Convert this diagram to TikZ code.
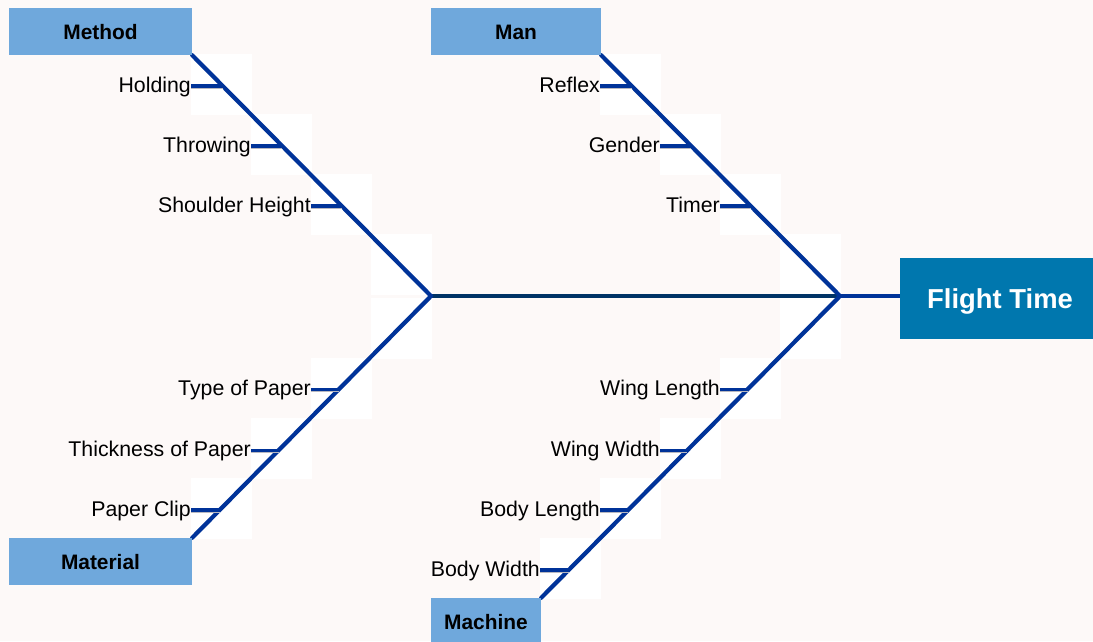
\documentclass[tikz,border=0pt]{standalone}
\usepackage{fontspec}
\setmainfont{Liberation Sans}
\definecolor{bgc}{HTML}{FDF9F8}
\definecolor{catc}{HTML}{6FA8DC}
\definecolor{effc}{HTML}{0077AE}
\definecolor{bonec}{HTML}{003399}
\definecolor{spinec}{HTML}{003366}
\definecolor{shadc}{HTML}{B8B8C0}
\pgfdeclarelayer{back}
\pgfdeclarelayer{bones}
\pgfsetlayers{back,bones,main}
\tikzset{
  catbox/.style={fill=catc, inner sep=0pt, minimum height=47pt,
    font=\fontsize{20.9}{24}\bfseries\selectfont, text=black,
    text height=15pt, text depth=0pt},
  effbox/.style={fill=effc, inner sep=0pt, minimum width=200pt, minimum height=81pt,
    font=\fontsize{27.4}{32}\bfseries\selectfont, text=white,
    text height=19.6pt, text depth=0pt},
  lbl/.style={inner sep=0pt, anchor=base east, font=\fontsize{21.3}{24}\selectfont, text=black},
  sq/.style={fill=white, draw=none},
  bone/.style={draw=bonec, line width=4.2pt},
  spineline/.style={draw=spinec, line width=3.6pt},
  headline/.style={draw=bonec, line width=3.6pt},
  rib/.style={draw=bonec, line width=3.4pt},
  ribshadow/.style={draw=shadc, line width=2pt},
}
\begin{document}
\begin{tikzpicture}[x=1pt,y=-1pt]
\useasboundingbox (0,0) rectangle (1093,641);
\clip (0,0) rectangle (1093,641);
\begin{pgfonlayer}{back}
\fill[bgc] (0,0) rectangle (1093,641);
% white squares behind the bones
\foreach \x/\y in {191/54,251/114,311/174,371/234,
                   371/298,311/358,251/418,191/478,
                   600/54,660/114,720/174,780/234,
                   780/298,720/358,660/418,600/478,540/538}
  \path[sq] (\x,\y) rectangle ++(60.5,60.5);
\end{pgfonlayer}
% junctions
\coordinate (jl) at (431,296);
\coordinate (jr) at (840,296);
% category and effect boxes
\node[catbox, minimum width=183pt] (method) at (100.5,31.5) {Method};
\node[catbox, minimum width=170pt] (man) at (516,31.5) {Man};
\node[catbox, minimum width=183pt] (material) at (100.5,561.5) {Material};
\node[catbox, minimum width=110pt] (machine) at (486,621.5) {Machine};
\node[effbox] (effect) at (1000,298.5) {Flight Time};
% spine and bones
\begin{pgfonlayer}{bones}
\draw[spineline] (jl) -- (jr);
\draw[headline] (jr) -- (jr -| effect.west);
\draw[bone, line cap=round] (method.south east) -- (jl);
\draw[bone, line cap=round] (man.south east) -- (jr);
\draw[bone, line cap=round] (material.north east) -- (jl);
\draw[bone, line cap=round] (machine.north east) -- (jr);
\end{pgfonlayer}
% ribs
\foreach \n/\xs/\xe/\y in {
   a1/191/222.7/86, a2/251/282.2/146, a3/311/341.8/206,
   b1/600/631.7/86, b2/660/691.2/146, b3/720/750.8/206,
   c1/311/338.9/389.3, c2/251/278.6/450.3, c3/191/219.7/510,
   d1/720/747.6/389.3, d2/660/687.2/450.3, d3/600/628.1/510, d4/540/568.7/570}{
  \coordinate (\n s) at (\xs,\y);
  \coordinate (\n e) at (\xe,\y);
  \draw[ribshadow] ([yshift=-2pt]\n s) -- ([yshift=-2pt]\n e);
  \draw[rib] (\n s) -- (\n e);
}
% labels
\node[lbl] (la1) at ([yshift=-6.5pt]a1s) {Holding};
\node[lbl] (la2) at ([yshift=-6.5pt]a2s) {Throwing};
\node[lbl] (la3) at ([yshift=-6.5pt]a3s) {Shoulder Height};
\node[lbl] (lb1) at ([yshift=-6.5pt]b1s) {Reflex};
\node[lbl] (lb2) at ([yshift=-6.5pt]b2s) {Gender};
\node[lbl] (lb3) at ([yshift=-6.5pt]b3s) {Timer};
\node[lbl] (lc1) at ([yshift=-6.5pt]c1s) {Type of Paper};
\node[lbl] (lc2) at ([yshift=-6.5pt]c2s) {Thickness of Paper};
\node[lbl] (lc3) at ([yshift=-6.5pt]c3s) {Paper Clip};
\node[lbl] (ld1) at ([yshift=-6.5pt]d1s) {Wing Length};
\node[lbl] (ld2) at ([yshift=-6.5pt]d2s) {Wing Width};
\node[lbl] (ld3) at ([yshift=-6.5pt]d3s) {Body Length};
\node[lbl] (ld4) at ([yshift=-6.5pt]d4s) {Body Width};
\end{tikzpicture}
\end{document}
